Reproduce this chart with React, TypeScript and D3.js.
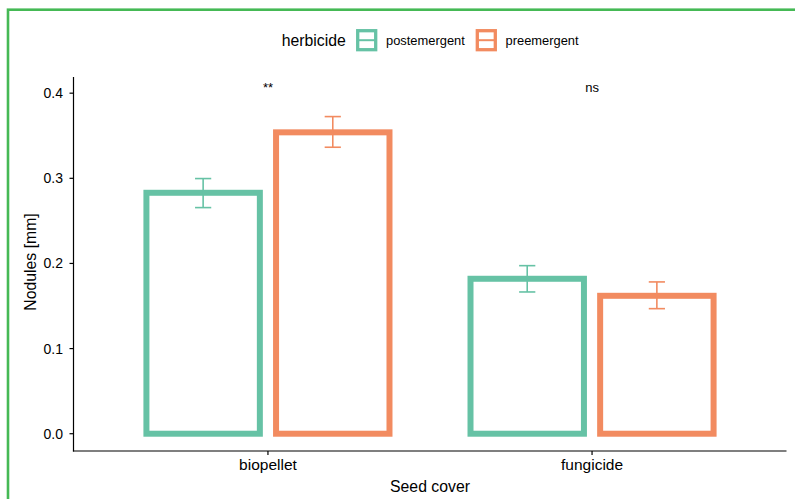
import React from "react";
import * as d3 from "d3";

const categories = ["biopellet", "fungicide"];
const herbicides = ["postemergent", "preemergent"];
const colors = ["#66c2a5", "#f28b60"];
const meanPost = [0.283, 0.182];
const meanPre = [0.354, 0.162];
const lowerPost = [0.2656, 0.1665];
const upperPost = [0.2997, 0.1974];
const lowerPre = [0.3365, 0.1469];
const upperPre = [0.3725, 0.1783];
const sigLabels = ["**", "ns"];
const yTicks = [0.0, 0.1, 0.2, 0.3, 0.4];

const W = 795;
const H = 499;
const FONT = "'Liberation Sans', Arial, Helvetica, sans-serif";

export default function App() {
  const y = d3.scaleLinear().domain([-0.0203, 0.419]).range([451, 77]);
  const x = d3.scaleLinear().domain([0.4, 2.6]).range([73.5, 786.5]);
  const unit = x(1) - x(0);
  const barW = 0.35 * unit;
  const offset = 0.2;
  const capW = 0.05 * unit;

  const series = [
    { name: herbicides[0], color: colors[0], mean: meanPost, lo: lowerPost, hi: upperPost, off: -offset },
    { name: herbicides[1], color: colors[1], mean: meanPre, lo: lowerPre, hi: upperPre, off: offset },
  ];

  const legendKeys = [
    { x: 357.7, labelX: 386 },
    { x: 477.3, labelX: 505.5 },
  ];

  return (
    <svg
      width={W}
      height={H}
      style={{ position: "absolute", left: 0, top: 0, background: "#fff" }}
      fontFamily={FONT}
    >
      <rect x={0} y={0} width={W} height={H} fill="#fff" />
      {/* outer green frame */}
      <rect x={8} y={9.7} width={W + 20} height={H + 20} fill="none" stroke="#45b955" strokeWidth={2.6} />

      {/* legend */}
      <text x={281.7} y={46} fontSize={15.8} fill="#000">herbicide</text>
      {series.map((s, i) => (
        <g key={s.name}>
          <rect x={legendKeys[i].x} y={30.7} width={18} height={19} fill="#fff" stroke={s.color} strokeWidth={3.3} />
          <line x1={legendKeys[i].x} x2={legendKeys[i].x + 18} y1={40.2} y2={40.2} stroke={s.color} strokeWidth={2} />
          <text x={legendKeys[i].labelX} y={44.5} fontSize={12.9} fill="#000">{s.name}</text>
        </g>
      ))}

      {/* bars */}
      {series.map((s) =>
        categories.map((c, ci) => {
          const cx = x(ci + 1 + s.off);
          return (
            <g key={s.name + c}>
              <rect
                x={cx - barW / 2}
                y={y(s.mean[ci])}
                width={barW}
                height={y(0) - y(s.mean[ci])}
                fill="none"
                stroke={s.color}
                strokeWidth={6}
              />
              <line x1={cx} x2={cx} y1={y(s.hi[ci])} y2={y(s.lo[ci])} stroke={s.color} strokeWidth={1.6} />
              <line x1={cx - capW / 2} x2={cx + capW / 2} y1={y(s.hi[ci])} y2={y(s.hi[ci])} stroke={s.color} strokeWidth={1.6} />
              <line x1={cx - capW / 2} x2={cx + capW / 2} y1={y(s.lo[ci])} y2={y(s.lo[ci])} stroke={s.color} strokeWidth={1.6} />
            </g>
          );
        })
      )}

      {/* significance labels */}
      {categories.map((c, ci) => (
        <text key={"sig" + c} x={x(ci + 1)} y={y(0.4015)} fontSize={13} textAnchor="middle" fill="#000">
          {sigLabels[ci]}
        </text>
      ))}

      {/* axes */}
      <line x1={73.5} x2={73.5} y1={77} y2={451.6} stroke="#000" strokeWidth={1.2} />
      <line x1={72.9} x2={786.5} y1={451} y2={451} stroke="#000" strokeWidth={1.2} />
      {yTicks.map((t) => (
        <g key={"yt" + t}>
          <line x1={69.5} x2={73.5} y1={y(t)} y2={y(t)} stroke="#000" strokeWidth={1.2} />
          <text x={63} y={y(t)} dy="0.36em" fontSize={14} textAnchor="end" fill="#000">
            {d3.format(".1f")(t)}
          </text>
        </g>
      ))}
      {categories.map((c, ci) => (
        <g key={"xt" + c}>
          <line x1={x(ci + 1)} x2={x(ci + 1)} y1={451} y2={455} stroke="#000" strokeWidth={1.2} />
          <text x={x(ci + 1)} y={470} fontSize={15.5} textAnchor="middle" fill="#000">{c}</text>
        </g>
      ))}
      <text x={430} y={492} fontSize={15.8} textAnchor="middle" fill="#000">Seed cover</text>
      <text
        transform={`translate(36,262) rotate(-90)`}
        fontSize={15.8}
        textAnchor="middle"
        fill="#000"
      >
        Nodules [mm]
      </text>
    </svg>
  );
}
